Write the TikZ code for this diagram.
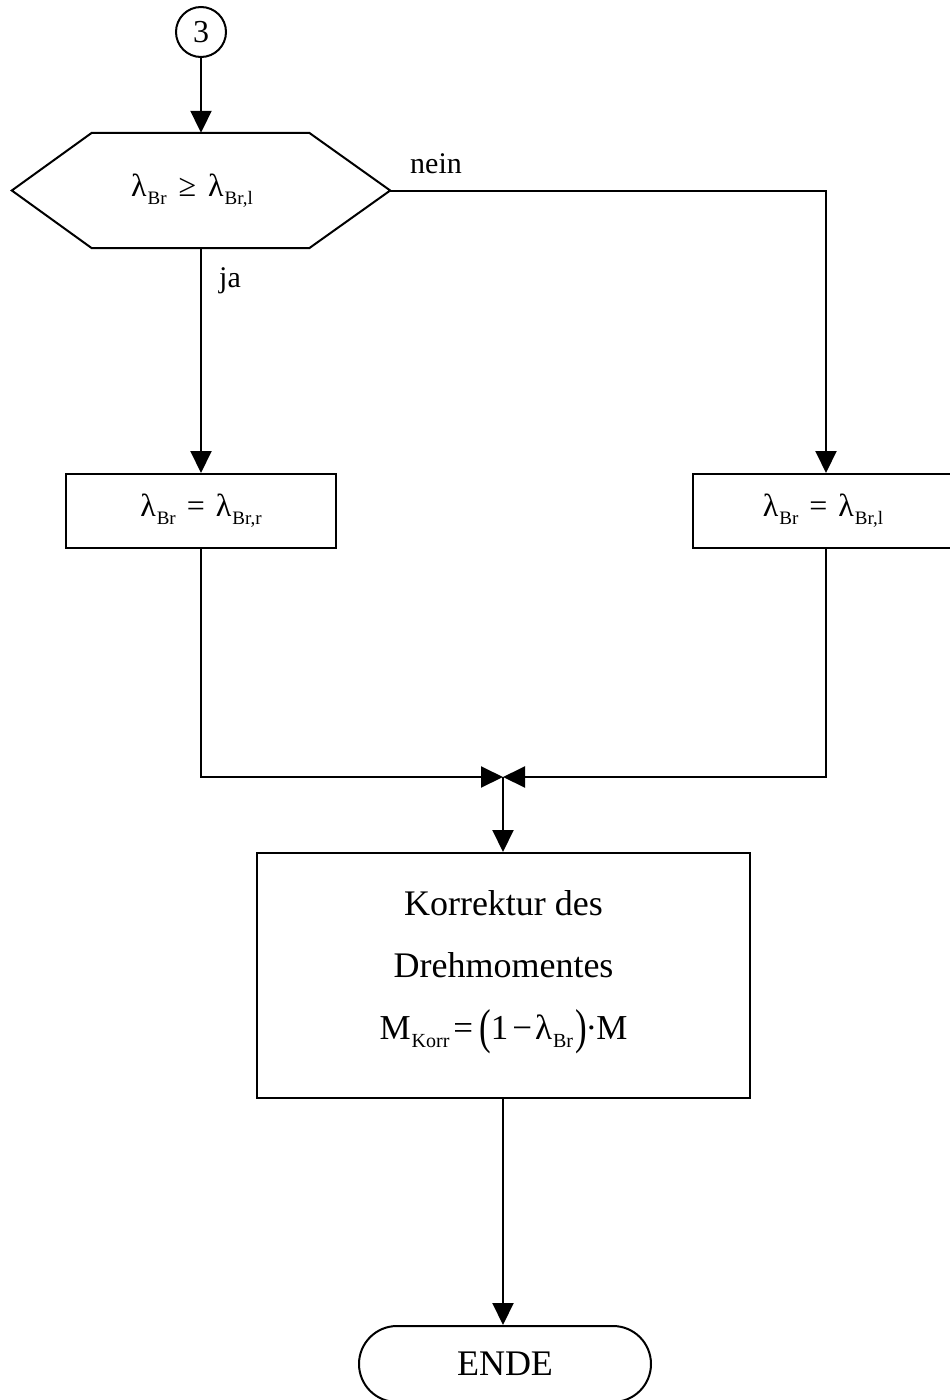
\documentclass[tikz,border=0pt]{standalone}
\usepackage{fontspec}
\usepackage{graphicx}
\setmainfont{Liberation Serif}
\usetikzlibrary{arrows.meta,shapes.misc}
\newcommand{\Sb}[2][19]{\hspace{1pt}\raisebox{-0.25em}{\fontsize{#1}{#1}\selectfont #2}}
\newcommand{\tallp}[1]{\raisebox{-0.14em}{\scalebox{1}[1.4]{#1}}}
\begin{document}
\begin{tikzpicture}[x=1pt,y=-1pt,
  every node/.style={font=\fontsize{30}{36}\selectfont},
  mathfont/.style={font=\fontsize{32}{38}\selectfont},
  conn/.style={line width=2pt},
  arr/.style={line width=2pt,-{Triangle[length=22pt,width=21pt]}},
  procbox/.style={draw,line width=2pt,rectangle,inner sep=0pt},
  bigfont/.style={font=\fontsize{36}{62}\selectfont}]
\fill[white] (0,0) rectangle (950,1400);
\useasboundingbox (0,0) rectangle (950,1400);

\node[circle,draw,line width=2pt,minimum size=50pt,inner sep=0pt,font=\fontsize{32}{36}\selectfont] (c3) at (201,32) {3};

\node[inner sep=0pt,minimum width=378pt,minimum height=115pt,mathfont] (hex) at (201,190.5) {\hspace*{-18pt}λ\Sb{Br}\hspace{4pt} ≥ \hspace{4pt}λ\Sb{Br,l}};
\draw[conn,line join=miter] (hex.west) -- ([xshift=80pt]hex.north west) -- ([xshift=-81pt]hex.north east) -- (hex.east) -- ([xshift=-81pt]hex.south east) -- ([xshift=80pt]hex.south west) -- cycle;

\node[procbox,minimum width=270pt,minimum height=74pt,mathfont] (boxL) at (201,511) {λ\Sb{Br}\hspace{3pt} = \hspace{3pt}λ\Sb{Br,r}};
\node[procbox,minimum width=266pt,minimum height=74pt,mathfont] (boxR) at (826,511) {\hspace*{-6pt}λ\Sb{Br}\hspace{3pt} = \hspace{3pt}λ\Sb{Br,l}};

\coordinate (j) at (503,777);

\node[procbox,minimum width=493pt,minimum height=245pt,align=center,bigfont] (big) at (503.5,975.5)
  {Korrektur des\\Drehmomentes\\{\fontsize{35}{40}\selectfont M\Sb[20]{Korr}\hspace{4pt}=\hspace{6pt}\tallp{(}1\hspace{4pt}−\hspace{3pt}λ\Sb[20]{Br}\hspace{2pt}\tallp{)}\hspace{-1pt}·\hspace{-1pt}M}\\[-40pt]\mbox{}};

\node[draw,line width=2pt,rounded rectangle,minimum width=292pt,minimum height=76pt,inner sep=0pt,font=\fontsize{36}{40}\selectfont] (ende) at (505,1364) {ENDE};

\node[anchor=base] (nein) at (436,173) {nein};
\node[anchor=base] (ja) at (230,287) {ja};

\draw[arr] (c3) -- (hex.north);
\draw[arr] (hex.south) -- (boxL.north);
\draw[arr] (hex.east) -| (boxR.north);
\draw[arr] (boxL.south) |- (j);
\draw[arr] (boxR.south) |- (j);
\draw[arr] (j) -- (big.north -| j);
\draw[arr] (big.south -| j) -- (ende.north -| j);
\end{tikzpicture}
\end{document}
